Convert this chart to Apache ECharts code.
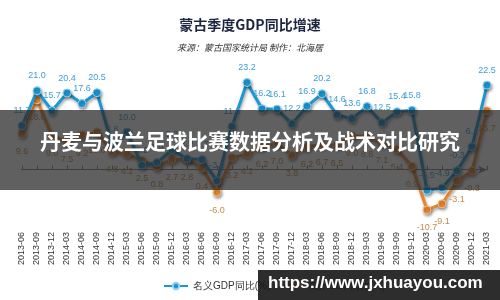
<!DOCTYPE html>
<html>
<head>
<meta charset="utf-8">
<script src="https://cdn.jsdelivr.net/npm/echarts@6/dist/echarts.min.js"></script>
<style>
html,body{margin:0;padding:0;background:#fff;}
#c{width:500px;height:300px;}
</style>
</head>
<body>
<div id="c"></div>
<script>
var categories = ['2013-06','2013-09','2013-12','2014-03','2014-06','2014-09','2014-12','2015-03','2015-06','2015-09','2015-12','2016-03','2016-06','2016-09','2016-12','2017-03','2017-06','2017-09','2017-12','2018-03','2018-06','2018-09','2018-12','2019-03','2019-06','2019-09','2019-12','2020-03','2020-06','2020-09','2020-12','2021-03'];
var nominalGDP = [11.7,21.0,15.7,20.4,17.6,20.5,6.8,10.0,1.2,1.9,5.3,2.9,2.7,-3.0,11.5,23.2,16.2,16.1,12.2,16.9,20.2,14.6,13.6,16.8,12.5,15.4,15.8,-5.5,-4.9,-0.3,6.1,22.5];
var realGDP = [9.6,18.6,9.0,7.5,9.2,10.0,4.8,4.2,2.5,0.8,2.7,2.8,0.4,-6.0,3.2,4.2,6.2,7.0,3.8,6.2,6.7,6.5,9.0,8.8,7.1,5.4,0.9,-10.7,-9.1,-3.1,-0.3,15.7];
var seriesNames = ['名义GDP同比(%)','实际GDP同比(%)'];
var titleText = '蒙古季度GDP同比增速';
var subText = '来源：蒙古国家统计局 制作：北海居';
var bannerText = '丹麦与波兰足球比赛数据分析及战术对比研究';
var watermarkText = 'https://www.jxhuayou.com';

var chart = echarts.init(document.getElementById('c'), null, {renderer:'canvas'});
var narrow = '"Liberation Sans Narrow","Liberation Sans",Arial,sans-serif';
var shadow = {shadowColor:'rgba(0,0,0,0.35)', shadowBlur:3, shadowOffsetX:1, shadowOffsetY:2};
chart.setOption({
  backgroundColor:'#fff',
  animation:false,
  title:[
    {text:titleText, left:'center', top:13, textStyle:{fontSize:14, fontWeight:'bold', color:'#1e2742', fontFamily:'"Noto Sans CJK SC"'}},
    {text:subText, left:'center', top:38, textStyle:{fontSize:9, fontStyle:'italic', fontWeight:'normal', color:'#333', fontFamily:'"Noto Sans CJK SC"'}}
  ],
  legend:{
    data:seriesNames, left:158, top:276, itemWidth:24, itemHeight:8, itemGap:8,
    textStyle:{fontSize:10, color:'#333', fontFamily:narrow}
  },
  grid:{left:22, right:13, top:57, bottom:74, containLabel:false},
  xAxis:[
    {type:'category', data:categories, boundaryGap:false, position:'bottom',
     axisLine:{show:false, onZero:false}, axisTick:{show:false},
     axisLabel:{rotate:90, fontSize:9, color:'#333', margin:6, interval:0, fontFamily:'"Liberation Sans",Arial,sans-serif'}},
    {type:'category', data:categories, boundaryGap:false, position:'top',
     axisLine:{show:true, onZero:true, symbol:['none','arrow'], symbolSize:[6,9], lineStyle:{color:'#808080', width:1}},
     axisTick:{show:true, length:4, inside:false, lineStyle:{color:'#808080'}, interval:0},
     axisLabel:{show:false}, splitLine:{show:false}}
  ],
  yAxis:{type:'value', min:-15, max:30, show:false, splitLine:{show:false}},
  series:[
    {name:seriesNames[1], type:'line', data:realGDP, xAxisIndex:0, z:2,
     symbol:'circle', symbolSize:8,
     lineStyle:Object.assign({color:'#e8862e', width:3}, shadow),
     itemStyle:Object.assign({color:'#e8862e', borderColor:'#f6c08e', borderWidth:1}, shadow),
     label:{show:true, position:'bottom', distance:9, fontSize:9, color:'#c98a48', fontFamily:narrow, formatter:function(p){return p.value.toFixed(1);}}
    },
    {name:seriesNames[0], type:'line', data:nominalGDP, xAxisIndex:0, z:3,
     symbol:'circle', symbolSize:8,
     lineStyle:Object.assign({color:'#1b97d4', width:3}, shadow),
     itemStyle:Object.assign({color:'#1b97d4', borderColor:'#8fd0f0', borderWidth:1}, shadow),
     label:{show:true, position:'top', distance:6, fontSize:9, color:'#3d9ed8', fontFamily:narrow, formatter:function(p){return p.value.toFixed(1);}}
    }
  ],
  graphic:[
    {type:'rect', left:0, top:110, z:100, shape:{width:500, height:80}, style:{fill:'rgba(35,35,35,0.72)'}},
    {type:'text', left:'center', top:131, z:101, style:{text:bannerText, fill:'#fff', font:'bold 21px "Noto Sans CJK SC"'}},
    {type:'rect', left:258, top:270, z:100, shape:{width:242, height:30}, style:{fill:'rgba(22,22,22,0.9)'}},
    {type:'text', left:268, top:275, z:101, style:{text:watermarkText, fill:'#fff', font:'bold 17px "Liberation Sans", Arial, sans-serif'}}
  ]
});
</script>
</body>
</html>
